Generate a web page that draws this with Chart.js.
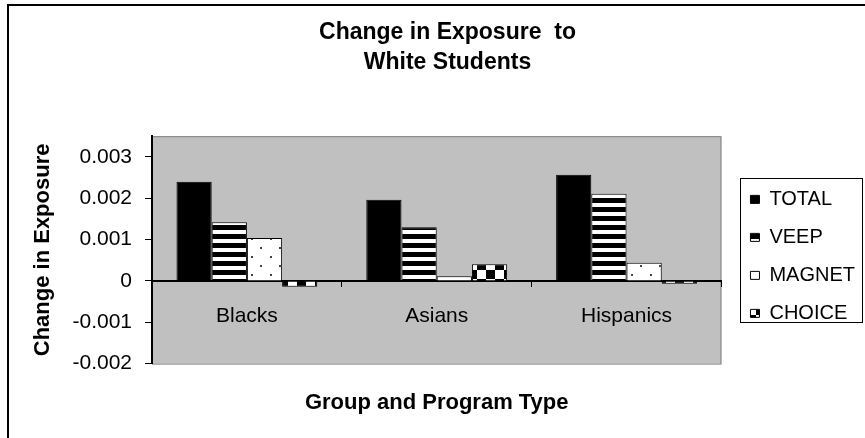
<!DOCTYPE html>
<html>
<head>
<meta charset="utf-8">
<script src="https://cdn.jsdelivr.net/npm/chart.js@4.4.1/dist/chart.umd.min.js"></script>
<style>
html,body{margin:0;padding:0;background:#fff;}
#wrap{width:865px;height:438px;}
</style>
</head>
<body>
<div id="wrap"><canvas id="c" width="865" height="438"></canvas></div>
<script>
// ---- data ----
const categories = ['Blacks', 'Asians', 'Hispanics'];
const seriesNames = ['TOTAL', 'VEEP', 'MAGNET', 'CHOICE'];
const totalValues  = [0.00240, 0.00196, 0.00257];
const veepValues   = [0.00142, 0.00130, 0.00211];
const magnetValues = [0.00104, 0.00011, 0.00044];
const choiceValues = [-0.00014, 0.00040, -0.00007];
const yTickValues  = [-0.002, -0.001, 0, 0.001, 0.002, 0.003];
const chartTitle = ['Change in Exposure  to', 'White Students'];
const xTitle = 'Group and Program Type';
const yTitle = 'Change in Exposure';

const FONT = "'Liberation Sans', Arial, Helvetica, sans-serif";

// ---- fill patterns ----
function makePattern(w, h, draw) {
  const cv = document.createElement('canvas');
  cv.width = w; cv.height = h;
  const g = cv.getContext('2d');
  draw(g, w, h);
  return g.createPattern(cv, 'repeat');
}
const ctx = document.getElementById('c').getContext('2d');
const stripePattern = makePattern(8, 9, (g, w, h) => {
  g.fillStyle = '#fff'; g.fillRect(0, 0, w, h);
  g.fillStyle = '#000'; g.fillRect(0, 0, w, 5);
});
const dotPattern = makePattern(19, 18, (g, w, h) => {
  g.fillStyle = '#fff'; g.fillRect(0, 0, w, h);
  g.fillStyle = '#444'; g.fillRect(4, 4, 2, 2); g.fillRect(13, 13, 2, 2);
});
const checkPattern = makePattern(18, 18, (g, w, h) => {
  g.fillStyle = '#fff'; g.fillRect(0, 0, w, h);
  g.fillStyle = '#000'; g.fillRect(0, 0, 9, 9); g.fillRect(9, 9, 9, 9);
});
const fills = ['#000', stripePattern, dotPattern, checkPattern];
const seriesValues = [totalValues, veepValues, magnetValues, choiceValues];

// ---- plugins ----
const backgroundPlugin = {
  id: 'bgFrame',
  beforeDraw(chart) {
    const c = chart.ctx, a = chart.chartArea;
    c.save();
    c.fillStyle = '#fff';
    c.fillRect(0, 0, chart.width, chart.height);
    c.strokeStyle = '#000';
    c.lineWidth = 2;
    c.strokeRect(8, 5, 1000, 1000);
    c.fillStyle = '#c0c0c0';
    c.fillRect(a.left, a.top, a.right - a.left, a.bottom - a.top);
    c.strokeStyle = '#808080';
    c.lineWidth = 1;
    c.strokeRect(a.left + 0.5, a.top + 0.5, a.right - a.left - 1, a.bottom - a.top);
    c.restore();
  }
};
const legendBorderPlugin = {
  id: 'legendBorder',
  afterDraw(chart) {
    const lg = chart.legend;
    if (!lg || !lg.legendHitBoxes || !lg.legendHitBoxes.length) return;
    const hb = lg.legendHitBoxes;
    const c = chart.ctx;
    const x1 = Math.round(hb[0].left - 10) + 0.5;
    const x2 = Math.round(lg.right - 3) + 0.5;
    const y1 = Math.round(hb[0].top - 11) + 0.5;
    const y2 = Math.round(hb[hb.length - 1].top + 19) + 0.5;
    c.save();
    c.strokeStyle = '#000';
    c.lineWidth = 1;
    c.strokeRect(x1, y1, x2 - x1, y2 - y1);
    c.restore();
  }
};

Chart.defaults.color = '#000';
Chart.defaults.font.family = FONT;

new Chart(ctx, {
  type: 'bar',
  data: {
    labels: categories,
    datasets: seriesNames.map((name, i) => ({
      label: name,
      data: seriesValues[i],
      backgroundColor: fills[i],
      borderColor: '#000',
      borderWidth: 1,
      xAxisID: 'x',
      yAxisID: 'y',
      categoryPercentage: 0.742,
      barPercentage: 1.0
    }))
  },
  options: {
    responsive: false,
    animation: false,
    devicePixelRatio: 1,
    layout: { padding: { left: 30, right: 0, top: 0, bottom: 0 } },
    plugins: {
      tooltip: { enabled: false },
      title: {
        display: true,
        text: chartTitle,
        font: { family: FONT, size: 23, weight: 'bold', lineHeight: 1.33 },
        color: '#000',
        padding: { top: 17, bottom: 58 }
      },
      legend: {
        display: true,
        position: 'right',
        align: 'center',
        fullSize: false,
        title: { display: true, text: ' ', font: { size: 10, lineHeight: 1 }, padding: { top: 0, bottom: 3 } },
        labels: {
          font: { family: FONT, size: 20 },
          color: '#000',
          boxWidth: 9,
          boxHeight: 8,
          padding: 18
        }
      }
    },
    scales: {
      x: {
        type: 'category',
        position: { y: 0 },
        offset: true,
        afterFit(s) { s.height = 0; },
        grid: { display: true, drawOnChartArea: false, drawTicks: true, tickLength: 5, color: '#000', offset: true },
        border: { display: true, color: '#000', width: 2 },
        ticks: { font: { family: FONT, size: 21 }, color: '#000', padding: 18, maxRotation: 0, autoSkip: false }
      },
      x2: {
        type: 'category',
        position: 'bottom',
        display: true,
        offset: true,
        grid: { display: false, drawTicks: false },
        border: { display: false },
        ticks: { display: false },
        title: {
          display: true,
          text: xTitle,
          font: { family: FONT, size: 22, weight: 'bold', lineHeight: 1.2 },
          color: '#000',
          padding: { top: 26, bottom: 22 }
        }
      },
      y: {
        type: 'linear',
        position: 'left',
        min: -0.002,
        max: 0.0035,
        afterBuildTicks(s) {
          s.ticks = yTickValues.map(v => ({ value: v }));
        },
        afterFit(s) { s.width = 122; },
        grid: { display: true, drawOnChartArea: false, drawTicks: true, tickLength: 7, color: '#000', lineWidth: 1 },
        border: { display: true, color: '#000', width: 2 },
        ticks: {
          font: { family: FONT, size: 21 },
          color: '#000',
          padding: 13,
          callback: v => (Math.abs(v) < 1e-12 ? '0' : v.toFixed(3))
        },
        title: {
          display: true,
          text: yTitle,
          font: { family: FONT, size: 22, weight: 'bold', lineHeight: 1.2 },
          color: '#000',
          padding: { top: 0, bottom: 0 }
        }
      },
      yR: {
        type: 'linear',
        position: 'right',
        display: true,
        afterFit(s) { s.width = 11; },
        grid: { display: false, drawTicks: false },
        border: { display: false },
        ticks: { display: false }
      }
    }
  },
  plugins: [backgroundPlugin, legendBorderPlugin]
});
</script>
</body>
</html>
